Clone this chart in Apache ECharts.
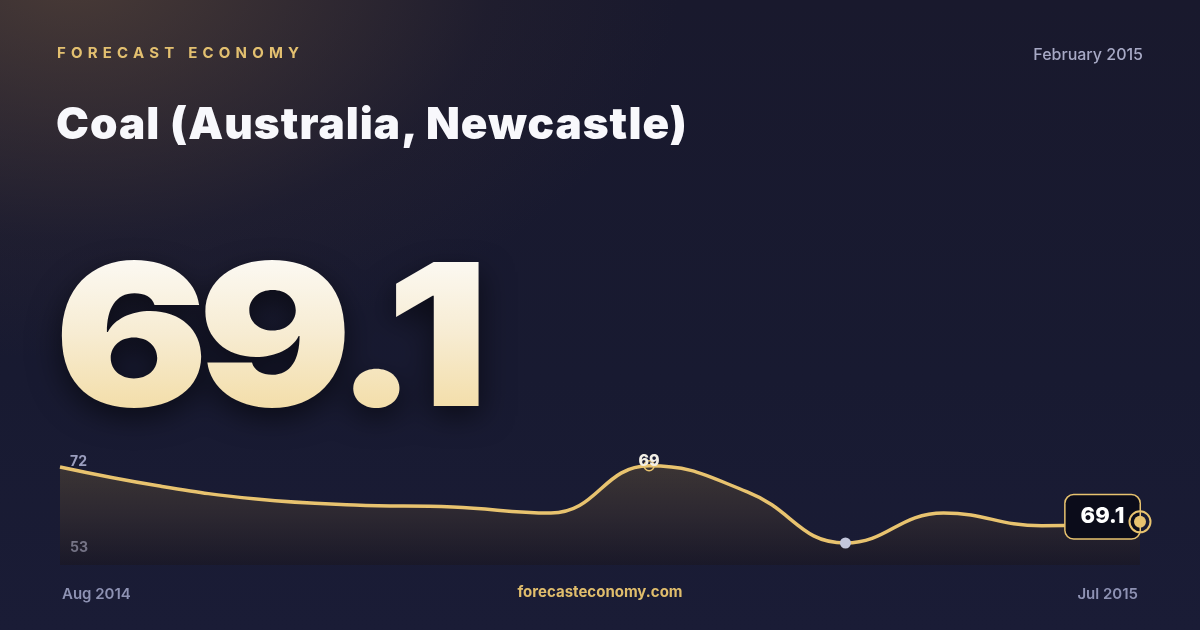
<!DOCTYPE html>
<html>
<head>
<meta charset="utf-8">
<script src="https://cdn.jsdelivr.net/npm/echarts@6/dist/echarts.min.js"></script>
<style>
  html, body { margin: 0; padding: 0; width: 1200px; height: 630px; overflow: hidden; }
  body {
    background:
      radial-gradient(ellipse 760px 480px at 6% -4%, rgba(112, 86, 62, 0.55), rgba(60, 48, 50, 0.18) 55%, rgba(24, 26, 48, 0) 80%),
      linear-gradient(180deg, #19192d 0%, #181a31 60%, #1a1c36 100%);
    font-family: Inter, "Noto Sans", sans-serif;
    position: relative;
  }
  #chart { position: absolute; left: 0; top: 0; width: 1200px; height: 630px; }
  .t { position: absolute; white-space: nowrap; line-height: 1; }
  #brand { left: 57px; top: 45px; font-size: 15px; font-weight: 700; letter-spacing: 5.2px; color: #e3c070; }
  #date { right: 57px; top: 46px; font-size: 16px; font-weight: 500; color: #a7a9c5; }
  #title { left: 56px; top: 101px; font-size: 44px; font-weight: 900; color: #f8f8fc; letter-spacing: 1.05px; }
  #big {
    left: 54px; top: 235px; font-size: 198px; font-weight: 900; letter-spacing: -10px;
    transform: scaleX(1.16); transform-origin: 0 0;
    background: linear-gradient(180deg, #fdfdfd 0%, #f7ecd2 50%, #f2d99c 100%);
    -webkit-background-clip: text; background-clip: text; color: transparent;
    filter: drop-shadow(0 10px 14px rgba(0,0,0,0.55));
  }
</style>
</head>
<body>
<div id="chart"></div>
<div class="t" id="brand">FORECAST ECONOMY</div>
<div class="t" id="date">February 2015</div>
<div class="t" id="title">Coal (Australia, Newcastle)</div>
<div class="t" id="big">69.1</div>
<script>
// ---- data ----
const categories = ['Aug 2014','Sep 2014','Oct 2014','Nov 2014','Dec 2014','Jan 2015','Feb 2015','Mar 2015','Apr 2015','May 2015','Jun 2015','Jul 2015'];
const values = [72.0, 67.3, 64.0, 62.5, 62.0, 60.5, 72.3, 65.8, 53.0, 60.5, 57.3, 58.3];
const yTickLabels = ['72', '53'];
const peakLabel = '69';
const latestLabel = '69.1';
const footerSite = 'forecasteconomy.com';

const gold = '#e8c36f';
let maxI = 0, minI = 0;
values.forEach((v, i) => { if (v > values[maxI]) maxI = i; if (v < values[minI]) minI = i; });
const lastI = values.length - 1;

const chart = echarts.init(document.getElementById('chart'), null, { renderer: 'canvas' });
chart.setOption({
  backgroundColor: 'transparent',
  animation: false,
  grid: { left: 60, right: 60, top: 455, bottom: 65 },
  xAxis: {
    type: 'category', data: categories, boundaryGap: false,
    axisLine: { show: false }, axisTick: { show: false }, splitLine: { show: false },
    axisLabel: {
      margin: 22, color: '#8e92b3', fontSize: 15, fontWeight: 600, fontFamily: 'Inter',
      padding: [0, 2, 0, 2],
      interval: (i) => i === 0 || i === categories.length - 1,
      alignMinLabel: 'left', alignMaxLabel: 'right'
    }
  },
  yAxis: { type: 'value', min: 47.5, max: 75, show: false },
  graphic: [
    { type: 'text', left: 70, top: 455, style: { text: yTickLabels[0], fill: '#9b9ebe', font: '700 14px Inter' } },
    { type: 'text', left: 70, top: 541, style: { text: yTickLabels[1], fill: '#9b9ebe', font: '700 14px Inter' } },
    { type: 'text', left: 'center', top: 585, style: { text: footerSite, fill: '#e0bd6c', font: '700 15px Inter' } }
  ],
  series: [{
    type: 'line',
    data: values,
    smooth: 0.45,
    symbol: 'none',
    z: 2,
    lineStyle: { color: gold, width: 3.5 },
    areaStyle: {
      color: new echarts.graphic.LinearGradient(0, 0, 0, 1, [
        { offset: 0, color: 'rgba(124, 102, 55, 0.5)' },
        { offset: 0.5, color: 'rgba(80, 64, 45, 0.5)' },
        { offset: 1, color: 'rgba(28, 20, 20, 0.5)' }
      ])
    },
    markPoint: {
      silent: true,
      data: [
        {
          coord: [maxI, values[maxI]], symbol: 'circle', symbolSize: 10,
          itemStyle: { color: 'rgba(0,0,0,0)', borderColor: gold, borderWidth: 1.5 },
          label: { show: true, position: 'top', distance: -9, formatter: peakLabel, color: '#f2efe6', fontSize: 16, fontWeight: 800, fontFamily: 'Inter' }
        },
        {
          coord: [minI, values[minI]], symbol: 'circle', symbolSize: 11,
          itemStyle: { color: '#c3c7dc' }, label: { show: false }
        },
        {
          coord: [lastI, values[lastI]], symbol: 'circle', symbolSize: 21,
          itemStyle: { color: 'rgba(0,0,0,0)' },
          label: {
            show: true, position: 'left', distance: -10, offset: [0, -5], formatter: latestLabel,
            color: '#ffffff', fontSize: 22, fontWeight: 800, fontFamily: 'Inter',
            backgroundColor: '#0b0c1a', borderColor: gold, borderWidth: 1.5, borderRadius: 8,
            padding: [11, 15, 10, 15]
          }
        }
      ]
    }
  }, {
    type: 'scatter',
    z: 10,
    silent: true,
    data: [[lastI, values[lastI]]],
    symbol: 'circle', symbolSize: 21,
    itemStyle: { color: 'rgba(0,0,0,0)', borderColor: gold, borderWidth: 2, opacity: 1 }
  }, {
    type: 'scatter',
    z: 11,
    silent: true,
    data: [[lastI, values[lastI]]],
    symbol: 'circle', symbolSize: 12,
    itemStyle: { color: gold, opacity: 1 }
  }]
});
</script>
</body>
</html>
